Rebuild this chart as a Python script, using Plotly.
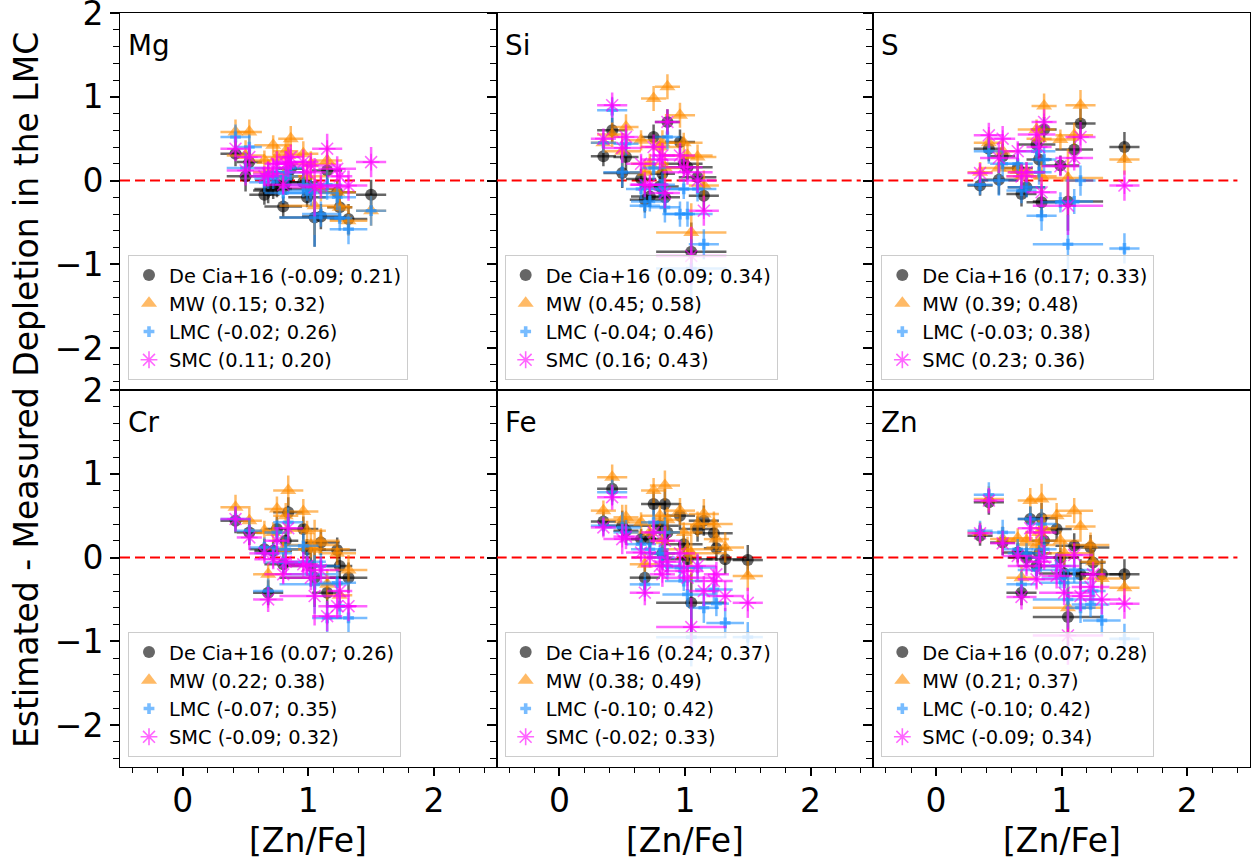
import plotly.graph_objects as go

# ---------------- data ----------------
ZN_FE = [0.35, 0.42, 0.50, 0.53, 0.65, 0.68, 0.72, 0.75, 0.80, 0.82, 0.84,
         0.86, 0.96, 0.99, 1.02, 1.05, 1.10, 1.15, 1.23, 1.25, 1.32, 1.50]
XERR = [0.10, 0.12, 0.15, 0.10, 0.12, 0.12, 0.15, 0.10, 0.15, 0.10, 0.12,
        0.10, 0.12, 0.15, 0.20, 0.28, 0.15, 0.12, 0.15, 0.10, 0.15, 0.12]
YERR = [0.12, 0.15, 0.18, 0.15, 0.12, 0.15, 0.12, 0.15, 0.12, 0.15, 0.18,
        0.15, 0.15, 0.12, 0.15, 0.35, 0.15, 0.18, 0.15, 0.15, 0.18, 0.18]

N = None
MG_DECIA = [N, 0.32, 0.05, 0.22, -0.17, -0.12, -0.10, -0.05, -0.31, -0.02, 0.05,
            0.14, -0.02, -0.20, -0.10, -0.44, -0.43, 0.12, -0.14, -0.32, -0.46, -0.17]
MG_MW = [N, 0.58, 0.30, 0.58, 0.24, 0.10, 0.42, 0.28, 0.05, 0.35, 0.30,
         0.50, 0.32, 0.05, 0.20, -0.30, -0.10, 0.24, -0.14, -0.32, -0.48, -0.36]
MG_LMC = [N, 0.52, 0.15, 0.40, -0.02, 0.05, 0.02, 0.10, -0.15, 0.05, 0.10,
          0.15, -0.05, -0.12, -0.15, -0.44, -0.40, -0.05, -0.20, -0.45, -0.58, -0.36]
MG_SMC = [N, 0.38, 0.12, 0.28, 0.05, 0.08, 0.15, 0.20, -0.05, 0.20, 0.22,
          0.28, 0.22, 0.10, 0.18, -0.08, -0.06, 0.38, 0.14, 0.05, -0.06, 0.22]

SI_DECIA = [0.29, 0.60, 0.09, 0.28, 0.02, -0.23, -0.19, 0.52, -0.07, 0.08, -0.20,
            0.70, 0.46, 0.20, 0.16, -0.85, 0.04, -0.18, N, N, N, N]
SI_MW = [0.45, 0.55, 0.35, 0.64, 0.48, 0.10, 0.20, 0.98, 0.40, 0.45, 0.15,
         1.12, 0.78, 0.45, 0.30, -0.62, 0.28, -0.06, N, N, N, N]
SI_LMC = [0.45, 0.84, 0.10, 0.44, -0.10, -0.30, -0.25, 0.15, -0.10, -0.05, -0.32,
          0.52, -0.40, -0.10, -0.40, -1.05, -0.10, -0.76, N, N, N, N]
SI_SMC = [0.50, 0.90, 0.39, 0.52, 0.20, -0.05, -0.05, 0.40, 0.25, 0.30, -0.15,
          0.70, 0.30, 0.16, 0.10, -0.90, 0.00, -0.36, N, N, N, N]

S_DECIA = [-0.06, 0.38, 0.01, 0.29, 0.15, -0.16, -0.08, N, 0.43, 0.25, -0.26,
           0.61, N, 0.18, N, -0.25, 0.37, 0.68, N, N, N, 0.40]
S_MW = [0.10, 0.45, 0.15, 0.35, 0.12, 0.05, 0.10, N, 0.61, 0.50, 0.05,
        0.89, N, 0.49, N, 0.03, 0.54, 0.90, N, N, N, 0.25]
S_LMC = [-0.05, 0.35, 0.00, 0.20, 0.20, -0.12, -0.08, N, 0.35, 0.10, -0.42,
         0.25, N, -0.26, N, -0.76, -0.25, 0.00, N, N, N, -0.81]
S_SMC = [0.09, 0.54, 0.27, 0.50, 0.35, 0.05, 0.10, N, 0.55, 0.40, -0.14,
         0.70, N, 0.17, N, -0.30, 0.27, 0.52, N, N, N, -0.06]

CR_DECIA = [N, 0.44, N, 0.30, 0.10, -0.42, 0.08, 0.34, -0.08, 0.20, 0.54,
            N, 0.34, 0.10, -0.10, -0.24, 0.18, -0.42, 0.09, -0.10, -0.24, N]
CR_MW = [N, 0.60, N, 0.44, 0.32, -0.20, 0.30, 0.58, 0.10, 0.50, 0.80,
         N, 0.55, 0.32, 0.15, 0.10, 0.20, -0.32, 0.05, -0.45, -0.15, N]
CR_LMC = [N, 0.46, N, 0.32, 0.12, -0.40, 0.05, 0.30, -0.06, 0.10, 0.42,
          N, 0.14, -0.05, -0.20, -0.32, -0.10, -0.72, -0.30, -0.58, -0.72, N]
CR_SMC = [N, 0.46, N, 0.24, 0.05, -0.50, -0.02, 0.20, -0.20, -0.05, 0.35,
          N, -0.08, -0.10, -0.24, -0.46, -0.15, -0.70, -0.58, -0.40, -0.58, N]

FE_DECIA = [0.43, 0.82, 0.38, 0.32, 0.22, -0.24, 0.22, 0.64, 0.38, 0.05, 0.64,
            0.30, 0.50, 0.16, -0.02, -0.54, 0.34, 0.44, 0.29, 0.11, -0.02, -0.03]
FE_MW = [0.56, 0.96, 0.45, 0.48, 0.42, -0.08, 0.30, 0.80, 0.50, 0.20, 0.86,
         0.45, 0.56, 0.30, 0.10, 0.05, 0.40, 0.52, 0.40, 0.22, 0.12, -0.22]
FE_LMC = [0.38, 0.78, 0.36, 0.30, 0.16, -0.32, 0.10, 0.42, 0.05, 0.00, 0.30,
          -0.10, -0.12, -0.28, -0.44, -0.95, -0.12, -0.60, -0.38, -0.55, -0.78, -0.95]
FE_SMC = [0.36, 0.72, 0.22, 0.25, 0.06, -0.42, 0.00, 0.30, -0.10, -0.20, 0.20,
          -0.05, 0.05, -0.16, -0.24, -0.83, -0.10, -0.40, -0.28, -0.20, -0.46, -0.54]

ZN_DECIA = [0.26, 0.66, N, 0.18, 0.06, -0.42, 0.00, 0.46, -0.10, 0.05, 0.47,
            0.20, 0.34, 0.00, -0.19, -0.71, 0.14, -0.20, 0.12, -0.06, -0.20, -0.20]
ZN_MW = [0.30, 0.70, N, 0.22, 0.23, -0.24, 0.20, 0.68, 0.15, 0.30, 0.70,
         0.35, 0.50, 0.20, 0.05, -0.60, 0.56, 0.37, 0.15, -0.05, -0.25, -0.36]
ZN_LMC = [0.32, 0.75, N, 0.30, 0.10, -0.32, 0.05, 0.46, -0.15, 0.00, 0.40,
          0.10, -0.10, -0.25, -0.30, -0.50, -0.15, -0.60, -0.56, -0.40, -0.75, -0.97]
ZN_SMC = [0.29, 0.68, N, 0.17, 0.02, -0.47, -0.10, 0.35, -0.26, -0.05, 0.30,
          0.00, -0.22, -0.10, -0.42, -0.93, 0.03, -0.46, -0.35, -0.20, -0.50, -0.55]

ELEMENTS = ["Mg", "Si", "S", "Cr", "Fe", "Zn"]
SERIES_NAMES = ["De Cia+16", "MW", "LMC", "SMC"]
MG_STATS = ["(-0.09; 0.21)", "(0.15; 0.32)", "(-0.02; 0.26)", "(0.11; 0.20)"]
SI_STATS = ["(0.09; 0.34)", "(0.45; 0.58)", "(-0.04; 0.46)", "(0.16; 0.43)"]
S_STATS = ["(0.17; 0.33)", "(0.39; 0.48)", "(-0.03; 0.38)", "(0.23; 0.36)"]
CR_STATS = ["(0.07; 0.26)", "(0.22; 0.38)", "(-0.07; 0.35)", "(-0.09; 0.32)"]
FE_STATS = ["(0.24; 0.37)", "(0.38; 0.49)", "(-0.10; 0.42)", "(-0.02; 0.33)"]
ZN_STATS = ["(0.07; 0.28)", "(0.21; 0.37)", "(-0.10; 0.42)", "(-0.09; 0.34)"]

X_TICKS = [0, 1, 2]
Y_TICKS = [-2, -1, 0, 1, 2]

# ---------------- style ----------------
COLORS = ["rgba(0,0,0,0.6)", "rgba(255,140,0,0.6)",
          "rgba(30,144,255,0.6)", "rgba(255,0,255,0.6)"]
SYMBOLS = ["circle", "triangle-up", "cross", "asterisk-open"]
SIZES = [12, 14, 9, 14]
FONT = "DejaVu Sans"

W, H = 1258, 861
ML, MR, MT, MB = 120, 8, 13, 94
PW = (W - ML - MR)
PH = (H - MT - MB)

panels = [
    (MG_DECIA, MG_MW, MG_LMC, MG_SMC, MG_STATS),
    (SI_DECIA, SI_MW, SI_LMC, SI_SMC, SI_STATS),
    (S_DECIA, S_MW, S_LMC, S_SMC, S_STATS),
    (CR_DECIA, CR_MW, CR_LMC, CR_SMC, CR_STATS),
    (FE_DECIA, FE_MW, FE_LMC, FE_SMC, FE_STATS),
    (ZN_DECIA, ZN_MW, ZN_LMC, ZN_SMC, ZN_STATS),
]

fig = go.Figure()
layout = {}
annotations = []
shapes = []

for i, p in enumerate(panels):
    row, col = divmod(i, 3)
    n = i + 1
    sfx = "" if n == 1 else str(n)
    xref, yref = "x" + sfx, "y" + sfx
    leg = "legend" + sfx
    series = p[:4]
    stats = p[4]
    for k in range(4):
        ys = series[k]
        xs = [x for x, y in zip(ZN_FE, ys) if y is not None]
        xe = [e for e, y in zip(XERR, ys) if y is not None]
        ye = [e for e, y in zip(YERR, ys) if y is not None]
        yv = [y for y in ys if y is not None]
        marker = dict(symbol=SYMBOLS[k], size=SIZES[k], color=COLORS[k],
                      line=dict(width=1.6 if k == 3 else 0, color=COLORS[k]))
        fig.add_trace(go.Scatter(
            x=xs, y=yv, mode="markers", marker=marker,
            error_x=dict(type="data", array=xe, color=COLORS[k], thickness=2.5, width=0),
            error_y=dict(type="data", array=ye, color=COLORS[k], thickness=2.5, width=0),
            name=f"{SERIES_NAMES[k]} {stats[k]}",
            xaxis=xref, yaxis=yref, legend=leg, showlegend=True,
        ))

    x0d, x1d = col / 3, (col + 1) / 3
    y0d, y1d = (0.5, 1.0) if row == 0 else (0.0, 0.5)
    bottom = row == 1
    xa = dict(domain=[x0d, x1d], range=[-0.5, 2.5], anchor=yref, automargin=False,
              tickvals=X_TICKS, showticklabels=bottom,
              ticks="outside" if bottom else "", ticklen=8, tickwidth=1.5, tickcolor="black",
              ticklabelstandoff=-4,
              minor=dict(dtick=0.2, tick0=0, ticks="outside" if bottom else "",
                         ticklen=5, tickwidth=1, tickcolor="black"),
              showline=True, mirror=True, linecolor="black", linewidth=1,
              showgrid=False, zeroline=False,
              tickfont=dict(size=33, family=FONT, color="black"))
    ya = dict(domain=[y0d, y1d], range=[-2.5, 2.0], anchor=xref, automargin=False,
              tickvals=Y_TICKS, showticklabels=(col == 0), ticklabeloverflow="allow",
              ticks="outside", ticklen=9, tickwidth=1.5, tickcolor="black",
              minor=dict(dtick=0.2, tick0=0, ticks="outside",
                         ticklen=6, tickwidth=1, tickcolor="black"),
              showline=True, mirror=True, linecolor="black", linewidth=1,
              showgrid=False, zeroline=False,
              tickfont=dict(size=33, family=FONT, color="black"))
    layout["xaxis" + sfx] = xa
    layout["yaxis" + sfx] = ya

    layout[leg] = dict(
        x=x0d + 8 / PW, y=y0d + 10 / PH, xanchor="left", yanchor="bottom",
        xref="paper", yref="paper",
        bgcolor="rgba(255,255,255,0.8)", bordercolor="#cccccc", borderwidth=1,
        font=dict(size=19.4, family=FONT, color="black"), tracegroupgap=0,
    )

    shapes.append(dict(type="line", xref=xref, yref=yref, x0=-0.5, x1=2.4, y0=0, y1=0,
                       line=dict(color="red", width=2, dash="10px,5px"), layer="below"))

    annotations.append(dict(text=ELEMENTS[i], xref="paper", yref="paper",
                            x=x0d + 6 / PW, y=y1d - 14 / PH, xanchor="left", yanchor="top",
                            showarrow=False, font=dict(size=27.8, family=FONT, color="black")))
    if bottom:
        annotations.append(dict(text="[Zn/Fe]", xref="paper", yref="paper",
                                x=(x0d + x1d) / 2, y=-(840 - (H - MB)) / PH,
                                xanchor="center", yanchor="middle", showarrow=False,
                                font=dict(size=33, family=FONT, color="black")))

annotations.append(dict(text="Estimated - Measured Depletion in the LMC",
                        xref="paper", yref="paper", x=(26 - ML) / PW, y=0.5,
                        xanchor="center", yanchor="middle", textangle=-90, showarrow=False,
                        font=dict(size=33, family=FONT, color="black")))

fig.update_layout(**layout)
fig.update_layout(
    width=W, height=H, margin=dict(l=ML, r=MR, t=MT, b=MB, autoexpand=False),
    paper_bgcolor="white", plot_bgcolor="white",
    font=dict(family=FONT, color="black"),
    annotations=annotations, shapes=shapes,
)

fig.write_html("out.html")
